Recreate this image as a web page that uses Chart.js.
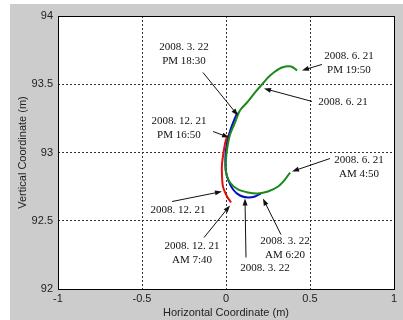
<!DOCTYPE html>
<html>
<head>
<meta charset="utf-8">
<script src="https://cdn.jsdelivr.net/npm/chart.js@4.4.0/dist/chart.umd.min.js"></script>
<style>
  body { margin: 0; background: #fff; }
  #frame { position: absolute; left: 10px; top: 4px; width: 393px; height: 316px; background: #cccccc; }
</style>
</head>
<body>
<div id="frame"><canvas id="chart" width="393" height="316"></canvas></div>
<script>
// ── Axis ticks ──
const xTicks = [-1, -0.5, 0, 0.5, 1];
const yTicks = [92, 92.5, 93, 93.5, 94];

// ── Trajectories (horizontal m, vertical m) ──
// 2008. 6. 21  AM 4:50 -> PM 19:50
const juneX = [0.381, 0.351, 0.310, 0.250, 0.190, 0.131, 0.071, 0.024, 0.000, 0.000, 0.006, 0.024, 0.054, 0.083, 0.131, 0.173, 0.214, 0.250, 0.292, 0.333, 0.387, 0.423];
const juneY = [92.853, 92.802, 92.751, 92.714, 92.700, 92.707, 92.729, 92.780, 92.853, 92.949, 93.022, 93.132, 93.220, 93.308, 93.374, 93.440, 93.498, 93.549, 93.593, 93.623, 93.630, 93.601];
// 2008. 3. 22  AM 6:20 -> PM 18:30
const marchX = [0.208, 0.173, 0.131, 0.083, 0.042, 0.012, -0.002, -0.004, 0.000, 0.010, 0.027, 0.050, 0.068];
const marchY = [92.700, 92.678, 92.670, 92.685, 92.729, 92.802, 92.875, 92.949, 93.022, 93.095, 93.168, 93.242, 93.293];
// 2008. 12. 21  AM 7:40 -> PM 16:50
const decX = [0.030, 0.006, -0.018, -0.024, -0.024, -0.012, 0.000, 0.012];
const decY = [92.634, 92.678, 92.751, 92.839, 92.912, 93.022, 93.095, 93.125];

// ── Annotations: text (centre), arrow tail -> head, all in data units ──
const noteText = [
  ['2008. 3. 22', 'PM 18:30'],
  ['2008. 6. 21', 'PM 19:50'],
  ['2008. 6. 21'],
  ['2008. 12. 21', 'PM 16:50'],
  ['2008. 6. 21', 'AM 4:50'],
  ['2008. 12. 21'],
  ['2008. 12. 21', 'AM 7:40'],
  ['2008. 3. 22', 'AM 6:20'],
  ['2008. 3. 22']
];
const noteX = [-0.250, 0.732, 0.696, -0.280, 0.792, -0.286, -0.202, 0.351, 0.232];
const noteY = [93.722, 93.652, 93.366, 93.176, 92.890, 92.575, 92.264, 92.300, 92.150];
const tailX = [-0.137, 0.571, 0.512, -0.077, 0.619, -0.321, -0.131, 0.327, 0.119];
const tailY = [93.586, 93.645, 93.374, 93.154, 92.956, 92.641, 92.377, 92.399, 92.231];
const headX = [0.071, 0.452, 0.226, 0.018, 0.393, -0.024, 0.024, 0.220, 0.113];
const headY = [93.271, 93.601, 93.469, 93.110, 92.861, 92.714, 92.612, 92.663, 92.663];

const toPts = (xs, ys) => xs.map((x, i) => ({ x, y: ys[i] }));

// White plot area, then box + arrows + labels on top
const annotate = {
  id: 'annotate',
  beforeDraw(chart) {
    const { ctx, chartArea: a } = chart;
    ctx.save();
    ctx.fillStyle = '#fff';
    ctx.fillRect(a.left, a.top, a.right - a.left, a.bottom - a.top);
    ctx.restore();
  },
  afterDatasetsDraw(chart) {
    const { ctx, chartArea: a, scales: { x, y } } = chart;
    ctx.save();
    ctx.strokeStyle = '#000';
    ctx.lineWidth = 1;
    ctx.strokeRect(a.left + 0.5, a.top + 0.5, a.right - a.left, a.bottom - a.top);

    ctx.strokeStyle = '#111';
    ctx.fillStyle = '#111';
    noteText.forEach((lines, i) => {
      const x0 = x.getPixelForValue(tailX[i]), y0 = y.getPixelForValue(tailY[i]);
      const x1 = x.getPixelForValue(headX[i]), y1 = y.getPixelForValue(headY[i]);
      const ang = Math.atan2(y1 - y0, x1 - x0);
      ctx.beginPath();
      ctx.moveTo(x0, y0);
      ctx.lineTo(x1 - 5 * Math.cos(ang), y1 - 5 * Math.sin(ang));
      ctx.stroke();
      ctx.beginPath();
      ctx.moveTo(x1, y1);
      ctx.lineTo(x1 - 7 * Math.cos(ang) + 2.5 * Math.sin(ang), y1 - 7 * Math.sin(ang) - 2.5 * Math.cos(ang));
      ctx.lineTo(x1 - 7 * Math.cos(ang) - 2.5 * Math.sin(ang), y1 - 7 * Math.sin(ang) + 2.5 * Math.cos(ang));
      ctx.closePath();
      ctx.fill();

      ctx.font = '11px "Liberation Serif", "Times New Roman", serif';
      ctx.textAlign = 'center';
      ctx.textBaseline = 'middle';
      const cx = x.getPixelForValue(noteX[i]), cy = y.getPixelForValue(noteY[i]);
      const h = 14;
      lines.forEach((t, k) => ctx.fillText(t, cx, cy + (k - (lines.length - 1) / 2) * h));
    });
    ctx.restore();
  }
};

const tickFont = { family: '"Liberation Sans", Arial, sans-serif', size: 11 };

new Chart(document.getElementById('chart'), {
  type: 'scatter',
  data: {
    datasets: [
      { label: '2008. 12. 21', data: toPts(decX, decY), borderColor: '#e01010', order: 1 },
      { label: '2008. 6. 21', data: toPts(juneX, juneY), borderColor: '#1a8a1a', order: 2 },
      { label: '2008. 3. 22', data: toPts(marchX, marchY), borderColor: '#0a0acc', order: 3 }
    ].map(d => Object.assign(d, { showLine: true, pointRadius: 0, borderWidth: 2, tension: 0.3 }))
  },
  options: {
    responsive: false,
    animation: false,
    layout: { padding: { left: 0, top: 12, right: 9, bottom: 0 } },
    plugins: { legend: { display: false }, tooltip: { enabled: false } },
    scales: {
      x: {
        min: -1, max: 1,
        afterBuildTicks: s => { s.ticks = xTicks.map(v => ({ value: v })); },
        afterFit: s => { s.height = 31; },
        ticks: { font: tickFont, color: '#222', padding: 3, maxRotation: 0, callback: v => String(v) },
        grid: { color: '#333', lineWidth: 1, drawTicks: false },
        border: { display: false, dash: [2, 2] },
        title: { display: true, text: 'Horizontal Coordinate (m)', font: tickFont, color: '#222', padding: 0 }
      },
      y: {
        min: 92, max: 94,
        afterBuildTicks: s => { s.ticks = yTicks.map(v => ({ value: v })); },
        afterFit: s => { s.width = 48; },
        ticks: { font: tickFont, color: '#222', padding: 5, callback: v => String(v) },
        grid: { color: '#333', lineWidth: 1, drawTicks: false },
        border: { display: false, dash: [2, 2] },
        title: { display: true, text: 'Vertical Coordinate (m)', font: tickFont, color: '#222', padding: { top: 6, bottom: 0 } }
      }
    }
  },
  plugins: [annotate]
});
</script>
</body>
</html>
